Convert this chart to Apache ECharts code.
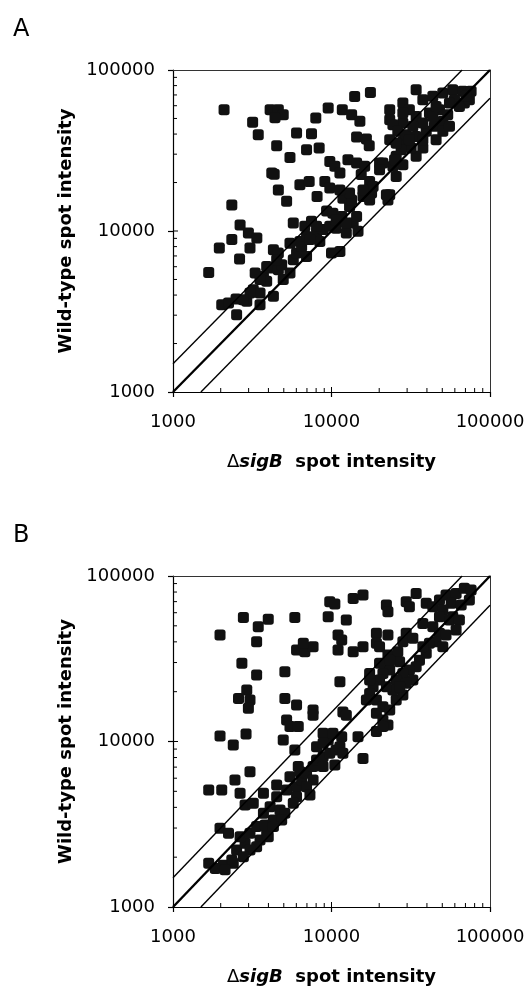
<!DOCTYPE html>
<html>
<head>
<meta charset="utf-8">
<script src="https://cdn.jsdelivr.net/npm/echarts@6/dist/echarts.min.js"></script>
<style>html,body{margin:0;padding:0;background:#fff}#c{width:528px;height:987px}</style>
</head>
<body>
<div id="c"></div>
<script>
// Panel A: ΔsigB spot intensity (x) vs wild-type spot intensity (y)
const aX = [2100,3180,3450,4100,4620,4960,4400,4510,5470,6020,7480,6960,8360,7960,9530,14000,17600,11700,13400,15100,14400,16600,17300,4200,4350,4620,5210,6320,7230,8110,9080,9760,9760,10500,11300,12700,14400,16200,15400,17400,17900,15800,17400,20100,22700,23300,2350,2650,2990,3380,2350,1960,3060,2630,1680,4300,4620,
2030,2240,2500,2920,2520,3540,3210,3720,3300,3900,4300,4100,4620,4960,4850,5470,5740,6020,6480,6960,6320,6960,8050,8850,9750,10700,12400,13700,14700,9310,10200,11600,13000,14400,11800,13400,10000,11300,5740,6790,7480,8440,7310,3540,3060,
10700,12400,8050,5470,4510,3900,2780,3540,
23300,23300,28200,34200,37700,43600,50400,58200,67300,76000,68900,59700,48000,41500,34200,28200,24400,26200,23300,28200,34200,39600,44600,50400,54100,37700,34200,31800,27500,25600,28200,24400,25600,21100,25000,22200,20100,18300,15800,13000,11300,45700,50400,37700,31000,64100,74100,55500,43600,29600,
28200,32600,45700,55500,70600,37700,31000,25600];
const aY = [56600,47300,39600,56600,56600,52700,50600,33800,28600,40600,40200,32000,32800,50400,58100,68500,72600,56600,52700,48000,38400,37300,33900,22900,22500,18000,15300,19400,20300,16400,20300,18500,27000,25200,22900,27700,26400,25200,22400,20300,17200,16400,15600,26400,15600,16800,14500,10900,9720,9050,8840,7840,7840,6700,5530,7650,7300,
3480,3570,3780,3660,3020,3480,4310,5220,5480,4870,3930,5890,5750,4990,6180,5480,6640,7300,8020,6950,8610,9250,9720,10200,10700,10400,9720,11200,9950,13300,12900,12300,14200,12300,16000,15600,7300,7470,11200,10700,11500,8610,8840,4120,4120,
11700,11200,10700,8400,6640,6020,3740,4990,
56600,49100,62400,75500,65400,68600,71900,75500,73700,73700,62400,65400,56600,54000,51500,46900,45700,41600,36900,36000,38700,41600,44700,48000,52700,32800,29100,32800,32000,29100,25800,25200,21800,26400,27700,16800,24000,18900,18000,17200,18000,36900,41600,46900,56600,59400,65400,44700,51500,39600,
54000,44700,59400,62400,68600,36900,36900,35100];

// Panel B
const bX = [1980,2780,3450,3990,3370,5870,6020,6790,7650,6640,2720,3370,5080,2590,2920,3060,2990,1980,2400,2890,5080,6020,5210,5470,6170,7650,7650,4960,5870,9750,10500,13700,15800,9530,12400,11000,11600,11000,13700,15800,19200,22700,19200,20100,22200,22700,29600,34200,31000,11300,11800,12400,15800,14700,19200,
22200,22700,26200,28200,29600,32600,26900,39600,43600,48000,52800,61100,68900,76000,56900,50400,58200,65800,74100,37700,43600,48000,52800,45700,41500,50400,39600,35900,34200,31000,28200,25600,23300,21100,20100,18300,17400,19200,21100,23300,25600,28200,24400,22200,19200,21100,22700,37700,32600,29600,26900,17400,16600,21100,55500,64100,61100,48000,17400,20100,23300,
1680,2030,2460,3060,2650,2850,1980,2240,1680,1850,2080,2350,2520,2850,2650,3060,3370,3540,3370,3900,3810,4300,3720,4100,4730,4510,5210,6020,6480,6960,7650,8050,8850,9750,10700,9530,8850,10200,11600,11300,11800,10500,8850,7650,6960,7310,6020,5740,5080,4850,4300,3990,3060,2780,2400,2130,3210,3720,4510,5470,6320,8050,8850,6170];
const bY = [44000,56200,49400,54700,40100,56200,35700,34900,37400,39200,29700,25200,26400,18200,20500,17800,15900,10800,9530,11100,18200,16600,13500,12300,12300,15500,14400,10200,8890,70000,67700,73200,76700,56800,54200,44000,41000,35700,34900,37400,45100,44000,39200,37400,66800,60900,70000,78500,65300,23000,15100,14400,7900,10700,11500,
29700,33300,34900,40100,45100,42000,30300,68400,65300,71600,76700,78500,84300,82300,68400,62400,56800,66800,71600,51700,49400,45100,44000,40100,39200,37400,34100,31000,28300,27000,25800,23500,27000,25800,23500,21400,19500,17800,16200,15500,17800,19100,20500,21400,14800,13500,12600,37400,23500,22500,21400,23500,17800,12300,54200,54200,47200,56800,25800,29700,31000,
5090,5090,5850,6570,4860,4130,2990,2790,1840,1710,1790,1920,2210,2430,2660,2790,3060,2540,2310,2790,3130,3350,3680,4040,3860,4630,5090,5330,5850,6420,7050,7730,8090,8480,8890,10200,11200,11200,10700,9310,8480,7210,7050,5850,5330,4750,4630,4230,3680,3350,3060,2660,2210,2010,1840,1680,4230,4860,5460,6120,6570,9310,9750,7050];

const axisMin = 1000, axisMax = 100000;
const tickValues = [1000, 10000, 100000];
const minorTickValues = [2000,3000,4000,5000,6000,7000,8000,9000,10000,20000,30000,40000,50000,60000,70000,80000,90000];
const lineRatios = [1.5, 1, 1/1.5];
const lineWidths = [1.4, 2.4, 1.4];

const FONT = 'DejaVu Sans';
const panels = [
  {letter: 'A', xs: aX, ys: aY, grid: {left: 173, top: 70, width: 317, height: 322}},
  {letter: 'B', xs: bX, ys: bY, grid: {left: 173, top: 576, width: 317, height: 331}}
];

const option = {
  animation: false,
  backgroundColor: '#fff',
  title: [], grid: [], xAxis: [], yAxis: [], series: []
};

function fmt(v){ return String(Math.round(v)); }

panels.forEach((p, i) => {
  option.title.push({
    text: p.letter, left: 8, top: p.grid.top - 57,
    textStyle: {fontFamily: FONT, fontSize: 24, fontWeight: 'normal', color: '#000'}
  });
  option.grid.push(p.grid);
  const xi = option.xAxis.length, yi = option.yAxis.length;
  option.xAxis.push({
    type: 'log', logBase: 10, min: axisMin, max: axisMax, gridIndex: i, position: 'bottom',
    name: '{d|Δ}{i|sigB}{b|  spot intensity}', nameLocation: 'middle', nameGap: 61,
    nameTextStyle: {rich: {
      d: {fontFamily: FONT, fontSize: 18, fontWeight: 'normal', color: '#000'},
      i: {fontFamily: FONT, fontSize: 18, fontWeight: 'bold', fontStyle: 'italic', color: '#000'},
      b: {fontFamily: FONT, fontSize: 18, fontWeight: 'bold', color: '#000'}
    }},
    axisLine: {show: true, onZero: false, lineStyle: {color: '#000', width: 1.2}},
    axisTick: {show: true, inside: false, length: 5, lineStyle: {color: '#000', width: 1.2}},
    axisLabel: {fontFamily: FONT, fontSize: 18, color: '#000', margin: 21, formatter: fmt},
    splitLine: {show: false}
  });
  option.xAxis.push({
    type: 'log', logBase: 10, min: axisMin, max: axisMax, gridIndex: i, position: 'top',
    axisLine: {show: true, onZero: false, lineStyle: {color: '#333', width: 1}},
    axisTick: {show: false}, axisLabel: {show: false}, splitLine: {show: false}
  });
  option.yAxis.push({
    type: 'log', logBase: 10, min: axisMin, max: axisMax, gridIndex: i, position: 'left',
    name: 'Wild-type spot intensity', nameLocation: 'middle', nameGap: 88, nameRotate: 90,
    nameTextStyle: {fontFamily: FONT, fontSize: 18, fontWeight: 'bold', color: '#000'},
    axisLine: {show: true, onZero: false, lineStyle: {color: '#000', width: 1.2}},
    axisTick: {show: true, inside: false, length: 5, lineStyle: {color: '#000', width: 1.2}},
    axisLabel: {fontFamily: FONT, fontSize: 18, color: '#000', margin: 18, formatter: fmt},
    splitLine: {show: false}
  });
  option.yAxis.push({
    type: 'log', logBase: 10, min: axisMin, max: axisMax, gridIndex: i, position: 'right',
    axisLine: {show: true, onZero: false, lineStyle: {color: '#333', width: 1}},
    axisTick: {show: false}, axisLabel: {show: false}, splitLine: {show: false}
  });
  // inside ticks (minor + inner half of major)
  option.series.push({
    type: 'custom', xAxisIndex: xi, yAxisIndex: yi, clip: false, silent: true, z: 1,
    data: minorTickValues.map(v => [v, v]),
    renderItem: function(params, api){
      const v = api.value(0);
      const len = (v === 10000) ? 5 : 4;
      const px = api.coord([v, axisMin]);
      const py = api.coord([axisMin, v]);
      const st = {stroke: '#000', lineWidth: 1};
      return {type: 'group', children: [
        {type: 'line', shape: {x1: px[0], y1: px[1], x2: px[0], y2: px[1] - len}, style: st},
        {type: 'line', shape: {x1: py[0], y1: py[1], x2: py[0] + len, y2: py[1]}, style: st}
      ]};
    }
  });
  lineRatios.forEach((r, k) => {
    const x0 = Math.max(axisMin, axisMin / r), x1 = Math.min(axisMax, axisMax / r);
    option.series.push({
      type: 'line', xAxisIndex: xi, yAxisIndex: yi, symbol: 'none', silent: true, z: 3,
      data: [[x0, x0 * r], [x1, x1 * r]],
      lineStyle: {color: '#000', width: lineWidths[k]}
    });
  });
  option.series.push({
    type: 'scatter', xAxisIndex: xi, yAxisIndex: yi, z: 2,
    symbol: 'roundRect', symbolSize: 11,
    itemStyle: {color: '#111', opacity: 1},
    data: p.xs.map((x, j) => [x, p.ys[j]])
  });
});

const chart = echarts.init(document.getElementById('c'), null, {renderer: 'canvas'});
chart.setOption(option);
</script>
</body>
</html>
